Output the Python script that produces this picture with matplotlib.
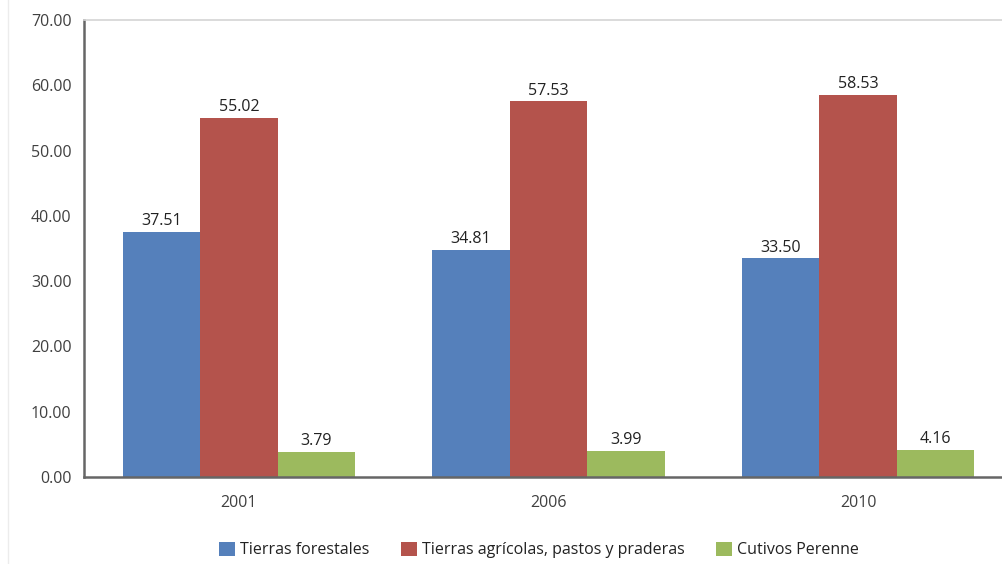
import matplotlib
matplotlib.use("Agg")
import matplotlib.pyplot as plt
from matplotlib.lines import Line2D
from matplotlib.patches import Patch
import numpy as np

years = ["2001", "2006", "2010"]
series_names = ["Tierras forestales", "Tierras agrícolas, pastos y praderas", "Cutivos Perenne"]
forestales = [37.51, 34.81, 33.50]
agricolas = [55.02, 57.53, 58.53]
perenne = [3.79, 3.99, 4.16]
y_ticks = [0, 10, 20, 30, 40, 50, 60, 70]

colors = ["#5580BB", "#B4534C", "#9CBA5E"]
text_color = "#404040"

plt.rcParams["font.family"] = ["Open Sans", "DejaVu Sans"]

W, H = 1002, 564
fig = plt.figure(figsize=(W / 100, H / 100), dpi=100)
fig.patch.set_facecolor("white")

# plot area: left axis at x=84, top at y=20, bottom at y=477; runs past the right edge
ax = fig.add_axes([84 / W, (H - 477) / H, 929 / W, 457 / H])

x = np.arange(len(years))
width = 0.25
all_series = [forestales, agricolas, perenne]
for i, (vals, col, name) in enumerate(zip(all_series, colors, series_names)):
    bars = ax.bar(x + (i - 1) * width, vals, width, color=col, label=name, zorder=2)
    for b, v in zip(bars, vals):
        ax.annotate(f"{v:.2f}", (b.get_x() + b.get_width() / 2, v),
                    xytext=(0, 2), textcoords="offset points",
                    ha="center", va="bottom", fontsize=11.5, color="#222222")

ax.set_xlim(-0.5, len(years) - 0.5)
ax.set_ylim(0, 70)
ax.set_yticks(y_ticks)
ax.set_yticklabels([f"{t:.2f}" for t in y_ticks])
ax.set_xticks(x)
ax.set_xticklabels(years)
ax.tick_params(axis="both", length=0, labelsize=11.5, colors=text_color)
ax.tick_params(axis="y", pad=9)
ax.tick_params(axis="x", pad=13)

for side in ["left", "bottom"]:
    ax.spines[side].set_color("#666666")
    ax.spines[side].set_linewidth(1.8)
ax.spines["top"].set_color("#d4d4d4")
ax.spines["top"].set_linewidth(1.2)
ax.spines["right"].set_visible(False)

# faint chart-area border on the left
fig.add_artist(Line2D([8 / W, 8 / W], [0, 1], color="#ececec", lw=1.0))

handles = [Patch(facecolor=c, edgecolor="none") for c in colors]
fig.legend(handles, series_names, loc="center", bbox_to_anchor=(539 / W, (H - 550) / H),
           ncol=3, frameon=False, fontsize=11.5, handlelength=1.0, handleheight=1.0,
           handletextpad=0.3, columnspacing=2.0, labelcolor="#222222")

fig.savefig("out.png", dpi=100, facecolor="white")
